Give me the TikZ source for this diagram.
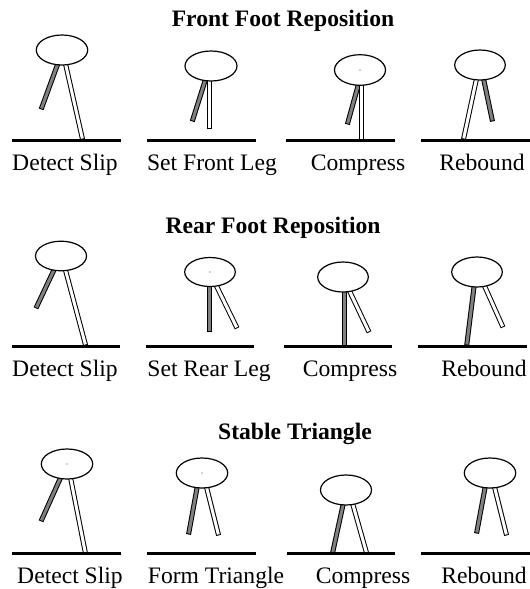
\documentclass[tikz,border=0pt]{standalone}
\usepackage{fontspec}
\setmainfont{Liberation Serif}

\begin{document}
\begin{tikzpicture}[x=1pt,y=-1pt,
  ground/.style={line width=3pt},
  body/.style={draw,fill=white,line width=1.2pt},
  leg/.style={line width=5pt,line cap=rect,postaction={draw=#1,line width=3pt}},
  leg/.default=white,
  caption/.style={anchor=base,inner sep=0pt,font=\fontsize{23.6}{26}\selectfont},
  heading/.style={anchor=base,inner sep=0pt,font=\fontsize{23.6}{26}\selectfont\bfseries}]
  \useasboundingbox (0,0) rectangle (530,589);

  % front foot reposition
  \node[heading] (titleA) at (283,26) {Front Foot Reposition};
  \draw[leg=gray] (57,66) -- (42,107);
  \draw[leg] (66,66) -- (82,137);
  \draw[body] (62,50) ellipse [x radius=25.7, y radius=15];
  \draw[ground] (12,140) -- (121,140);
  \node[caption] (slipA) at (65,170) {Detect Slip};

  \draw[leg=gray] (205,81) -- (193,119);
  \draw[leg] (209.5,81) -- (209.5,126);
  \draw[body] (211,66) ellipse [x radius=26, y radius=15];
  \draw[ground] (147,140) -- (256,140);
  \node[caption] (setA) at (212,170) {Set Front Leg};

  \draw[leg=gray] (358,86) -- (348,122);
  \draw[leg] (361.5,86) -- (361.5,138);
  \draw[body] (360,70) ellipse [x radius=25.5, y radius=15.3];
  \fill[darkgray] (360,70) circle (0.7);
  \draw[ground] (286,140) -- (395,140);
  \node[caption] (compA) at (358,170) {Compress};

  \draw[leg] (476,81) -- (464,137);
  \draw[leg=gray] (484,81) -- (492,119);
  \draw[body] (480,65) ellipse [x radius=25.3, y radius=15];
  \draw[ground] (421,140) -- (530,140);
  \node[caption] (rebA) at (482,170) {Rebound};

  % rear foot reposition
  \node[heading] (titleB) at (273,233) {Rear Foot Reposition};
  \draw[leg=gray] (53,272) -- (37,306);
  \draw[leg] (66,272) -- (85,343);
  \draw[body] (61,256) ellipse [x radius=25.5, y radius=14.8];
  \draw[ground] (12,346) -- (120,346);
  \node[caption] (slipB) at (65,376) {Detect Slip};

  \draw[leg=gray] (209.5,287) -- (209.5,329);
  \draw[leg] (217,287) -- (236,326);
  \draw[body] (210,272) ellipse [x radius=25.3, y radius=14.5];
  \fill[darkgray] (210,272) circle (0.7);
  \draw[ground] (146,346) -- (254,346);
  \node[caption] (setB) at (209,376) {Set Rear Leg};

  \draw[leg=gray] (344.5,292) -- (344.5,344);
  \draw[leg] (350,292) -- (368,330);
  \draw[body] (343,277) ellipse [x radius=25.3, y radius=15];
  \draw[ground] (284,346) -- (392,346);
  \node[caption] (compB) at (350,376) {Compress};

  \draw[leg=gray] (474,287) -- (467,343);
  \draw[leg] (485,287) -- (502,325);
  \draw[body] (477,272) ellipse [x radius=25.3, y radius=15];
  \draw[ground] (418,346) -- (527,346);
  \node[caption] (rebB) at (484,376) {Rebound};

  % stable triangle
  \node[heading] (titleC) at (295,439) {Stable Triangle};
  \draw[leg=gray] (60,479) -- (42,519);
  \draw[leg] (71,480) -- (85,551);
  \draw[body] (67,464) ellipse [x radius=25.7, y radius=15];
  \fill[darkgray] (67,464) circle (0.7);
  \draw[ground] (12,553) -- (121,553);
  \node[caption] (slipC) at (70,583) {Detect Slip};

  \draw[leg=gray] (197,488) -- (189,532);
  \draw[leg] (207,489) -- (218,533);
  \draw[body] (202,473) ellipse [x radius=25.7, y radius=15];
  \fill[darkgray] (202,473) circle (0.7);
  \draw[ground] (147,553) -- (256,553);
  \node[caption] (formC) at (216,583) {Form Triangle};

  \draw[leg=gray] (343,505) -- (333,551);
  \draw[leg] (353,505) -- (366,551);
  \draw[body] (346,490) ellipse [x radius=25.5, y radius=15];
  \draw[ground] (287,553) -- (395,553);
  \node[caption] (compC) at (363,583) {Compress};

  \draw[leg=gray] (485,488) -- (477,531);
  \draw[leg] (495,489) -- (506,533);
  \draw[body] (490,473) ellipse [x radius=25.7, y radius=15];
  \draw[ground] (421,553) -- (530,553);
  \node[caption] (rebC) at (484,583) {Rebound};
\end{tikzpicture}
\end{document}
